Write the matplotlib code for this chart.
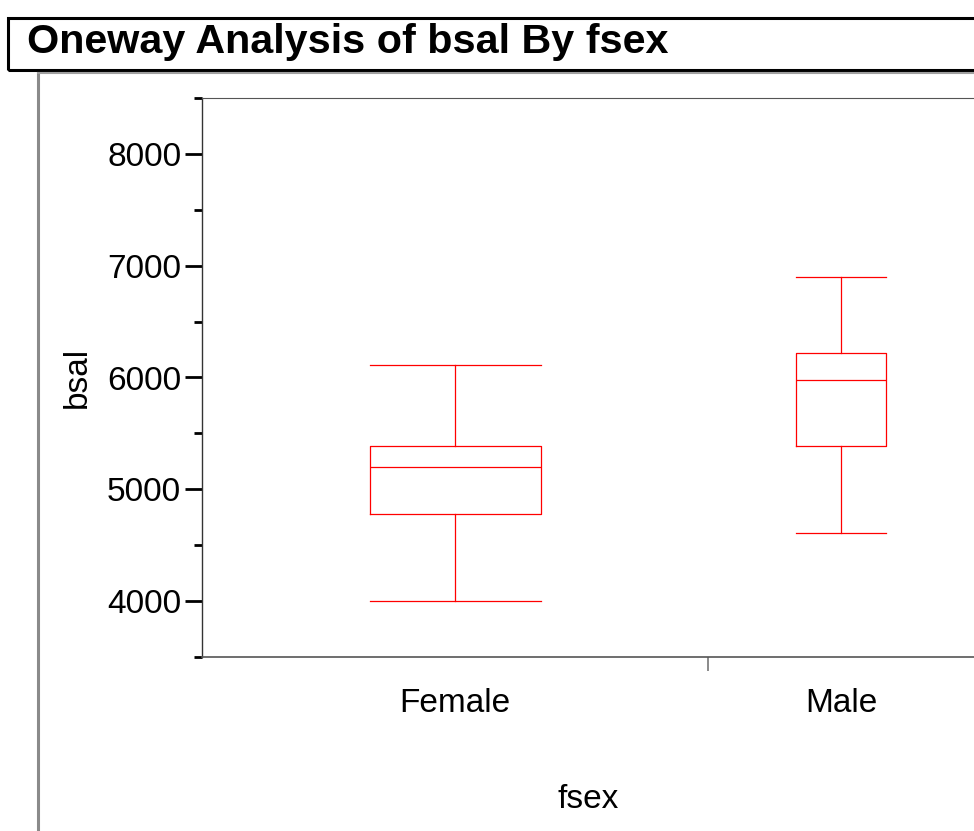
import matplotlib
matplotlib.use("Agg")
import matplotlib.pyplot as plt
from matplotlib.patches import Rectangle
from matplotlib.lines import Line2D

plt.rcParams['font.family'] = ['Liberation Sans', 'DejaVu Sans']

# group summaries (bsal by fsex)
groups = ["Female", "Male"]
counts = [61, 32]
whislo = [4000, 4610]
q1 = [4780, 5390]
med = [5200, 5975]
q3 = [5390, 6220]
whishi = [6110, 6900]

W, H = 974, 831
fig = plt.figure(figsize=(W / 100, H / 100), dpi=100)

# title panel
fig.patches.append(Rectangle((8 / W, 1 - 70 / H), 1.0, 52 / H, transform=fig.transFigure,
                             fill=False, edgecolor="black", linewidth=2.2, clip_on=False))
fig.text(27 / W, 1 - 42 / H, "Oneway Analysis of bsal By fsex", fontsize=29.7, fontweight="bold",
         va="center", ha="left")
# report outline
fig.lines.append(Line2D([38 / W, 38 / W], [1 - 73 / H, 0], transform=fig.transFigure,
                        color="#8a8a8a", linewidth=2.2))
fig.lines.append(Line2D([38 / W, 1], [1 - 73 / H, 1 - 73 / H], transform=fig.transFigure,
                        color="#a0a0a0", linewidth=1.5))

ax = fig.add_axes([202 / W, 1 - 657 / H, 1 - 202 / W, (657 - 98) / H])

# category widths proportional to group size
total = sum(counts)
bounds = [0.0]
for c in counts:
    bounds.append(bounds[-1] + c / total)
centers = [(bounds[i] + bounds[i + 1]) / 2 for i in range(len(counts))]
widths = [(bounds[i + 1] - bounds[i]) * 0.337 for i in range(len(counts))]

stats = []
for i, g in enumerate(groups):
    stats.append(dict(label=g, whislo=whislo[i], q1=q1[i], med=med[i], q3=q3[i],
                      whishi=whishi[i], fliers=[]))

red = dict(color="red", linewidth=0.9)
ax.bxp(stats, positions=centers, widths=widths, capwidths=widths, showfliers=False,
       boxprops=red, whiskerprops=red, capprops=red, medianprops=red, manage_ticks=False)

ax.set_xlim(0, 1)
ax.set_ylim(3500, 8500)

ax.set_yticks([4000, 5000, 6000, 7000, 8000])
ax.set_yticks([3500, 4500, 5500, 6500, 7500, 8500], minor=True)
ax.tick_params(axis="y", which="major", length=12, width=2, labelsize=24, pad=3, color="black")
ax.tick_params(axis="y", which="minor", length=6, width=2, color="black")

ax.set_xticks(bounds[1:-1])
ax.set_xticklabels([""] * (len(bounds) - 2))
ax.set_xticks(centers, minor=True)
ax.set_xticklabels(groups, minor=True)
ax.tick_params(axis="x", which="major", length=10, width=1.2, color="#777777", direction="out")
ax.tick_params(axis="x", which="minor", length=0, labelsize=24, pad=22)

ax.spines["right"].set_visible(False)
ax.spines["left"].set_color("#333333")
ax.spines["left"].set_linewidth(1.0)
ax.spines["bottom"].set_color("#555555")
ax.spines["bottom"].set_linewidth(1.2)
ax.spines["top"].set_color("#555555")
ax.spines["top"].set_linewidth(0.8)

ax.set_ylabel("bsal", fontsize=24, labelpad=10)
ax.set_xlabel("fsex", fontsize=24, labelpad=47)

fig.savefig("out.png", dpi=100)
